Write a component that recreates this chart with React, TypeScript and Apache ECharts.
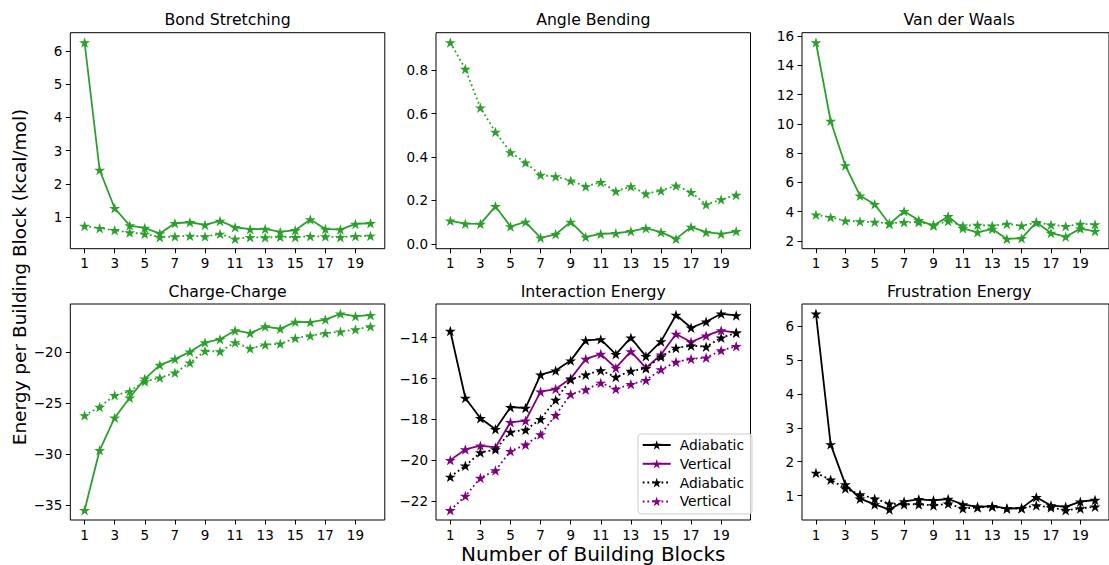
import React, { useEffect, useRef } from "react";
import * as echarts from "echarts";

const blocks = [1, 2, 3, 4, 5, 6, 7, 8, 9, 10, 11, 12, 13, 14, 15, 16, 17, 18, 19, 20];
const xTicks = [1, 3, 5, 7, 9, 11, 13, 15, 17, 19];

const bondSolid = [6.25, 2.42, 1.27, 0.75, 0.68, 0.51, 0.82, 0.85, 0.77, 0.89, 0.7, 0.64, 0.65, 0.56, 0.61, 0.93, 0.65, 0.63, 0.8, 0.82];
const bondDotted = [0.74, 0.67, 0.61, 0.54, 0.5, 0.4, 0.42, 0.44, 0.42, 0.5, 0.35, 0.4, 0.39, 0.41, 0.4, 0.43, 0.42, 0.4, 0.43, 0.44];
const bondTicks = [1, 2, 3, 4, 5, 6];

const angleSolid = [0.106, 0.093, 0.092, 0.173, 0.08, 0.101, 0.028, 0.044, 0.101, 0.032, 0.046, 0.049, 0.058, 0.072, 0.054, 0.023, 0.078, 0.054, 0.046, 0.058];
const angleDotted = [0.927, 0.805, 0.627, 0.515, 0.421, 0.374, 0.317, 0.31, 0.291, 0.264, 0.284, 0.242, 0.264, 0.231, 0.245, 0.268, 0.238, 0.181, 0.204, 0.225];
const angleTicks = [0, 0.2, 0.4, 0.6, 0.8];

const vdwSolid = [15.55, 10.19, 7.15, 5.09, 4.5, 3.16, 4.02, 3.41, 3.04, 3.68, 2.86, 2.59, 2.82, 2.14, 2.18, 3.27, 2.54, 2.29, 2.84, 2.66];
const vdwDotted = [3.79, 3.61, 3.38, 3.32, 3.29, 3.2, 3.27, 3.27, 3.11, 3.34, 3.04, 3.09, 3.04, 3.16, 3.04, 3.25, 3.11, 3.0, 3.16, 3.13];
const vdwTicks = [2, 4, 6, 8, 10, 12, 14, 16];

const chargeSolid = [-35.47, -29.61, -26.42, -24.46, -22.61, -21.27, -20.68, -19.97, -19.06, -18.73, -17.88, -18.14, -17.49, -17.72, -17.04, -17.07, -16.81, -16.25, -16.48, -16.38];
const chargeDotted = [-26.19, -25.37, -24.23, -23.84, -22.87, -22.51, -22.02, -21.04, -19.9, -19.93, -19.06, -19.64, -19.28, -19.19, -18.63, -18.4, -18.14, -18.01, -17.79, -17.49];
const chargeTicks = [-35, -30, -25, -20];

const interAdiabaticSolid = [-13.67, -16.95, -17.94, -18.48, -17.4, -17.44, -15.81, -15.61, -15.12, -14.13, -14.08, -14.81, -14.0, -14.91, -14.18, -12.89, -13.51, -13.22, -12.83, -12.91];
const interVerticalSolid = [-19.99, -19.47, -19.28, -19.37, -18.14, -18.06, -16.64, -16.51, -16.0, -15.04, -14.8, -15.48, -14.67, -15.48, -14.83, -13.82, -14.21, -13.9, -13.64, -13.76];
const interAdiabaticDotted = [-20.81, -20.27, -19.62, -19.47, -18.61, -18.51, -17.99, -17.05, -16.04, -15.81, -15.6, -15.92, -15.63, -15.5, -14.93, -14.5, -14.39, -14.44, -14.0, -13.76];
const interVerticalDotted = [-22.44, -21.75, -20.86, -20.5, -19.55, -19.24, -18.74, -17.79, -16.77, -16.54, -16.21, -16.51, -16.28, -16.08, -15.56, -15.19, -15.04, -14.98, -14.62, -14.42];
const interTicks = [-22, -20, -18, -16, -14];

const frusSolid = [6.36, 2.51, 1.33, 0.91, 0.74, 0.59, 0.83, 0.89, 0.86, 0.9, 0.74, 0.67, 0.69, 0.62, 0.63, 0.95, 0.71, 0.67, 0.82, 0.87];
const frusDotted = [1.67, 1.47, 1.21, 1.03, 0.91, 0.76, 0.74, 0.74, 0.71, 0.76, 0.62, 0.65, 0.67, 0.62, 0.63, 0.71, 0.65, 0.57, 0.62, 0.67];
const frusTicks = [1, 2, 3, 4, 5, 6];

const titles = ["Bond Stretching", "Angle Bending", "Van der Waals", "Charge-Charge", "Interaction Energy", "Frustration Energy"];
const legendNames = ["Adiabatic", "Vertical", "Adiabatic ", "Vertical "];

const GREEN = "#2ca02c";
const PURPLE = "#800080";
const BLACK = "#000000";
const STAR =
  "path://M0,-1L-0.2245,-0.309L-0.951,-0.309L-0.363,0.118L-0.588,0.809L0,0.382L0.588,0.809L0.363,0.118L0.951,-0.309L0.2245,-0.309Z";
const FONT = "DejaVu Sans";

const fmtTick = (decimals: number) => (v: number) => {
  const s = Math.abs(v).toFixed(decimals);
  return v < 0 ? "\u2212" + s : s;
};

export default function App() {
  const ref = useRef<HTMLDivElement>(null);

  useEffect(() => {
    if (!ref.current) return;
    const chart = echarts.init(ref.current, null, { renderer: "svg" });

    const lefts = [70.3, 436, 802];
    const tops = [32.7, 304];
    const W = 314.5;
    const H = 216;

    const panels = [
      { ticks: bondTicks, dec: 0, lines: [{ d: bondSolid, c: GREEN, dot: false }, { d: bondDotted, c: GREEN, dot: true }] },
      { ticks: angleTicks, dec: 1, lines: [{ d: angleSolid, c: GREEN, dot: false }, { d: angleDotted, c: GREEN, dot: true }] },
      { ticks: vdwTicks, dec: 0, lines: [{ d: vdwSolid, c: GREEN, dot: false }, { d: vdwDotted, c: GREEN, dot: true }] },
      { ticks: chargeTicks, dec: 0, lines: [{ d: chargeSolid, c: GREEN, dot: false }, { d: chargeDotted, c: GREEN, dot: true }] },
      {
        ticks: interTicks,
        dec: 0,
        lines: [
          { d: interAdiabaticSolid, c: BLACK, dot: false, name: legendNames[0] },
          { d: interVerticalSolid, c: PURPLE, dot: false, name: legendNames[1] },
          { d: interAdiabaticDotted, c: BLACK, dot: true, name: legendNames[2] },
          { d: interVerticalDotted, c: PURPLE, dot: true, name: legendNames[3] },
        ],
      },
      { ticks: frusTicks, dec: 0, lines: [{ d: frusSolid, c: BLACK, dot: false }, { d: frusDotted, c: BLACK, dot: true }] },
    ];

    const margin = (e: { min: number; max: number }, side: number) => {
      const r = e.max - e.min;
      return side < 0 ? e.min - 0.05 * r : e.max + 0.05 * r;
    };

    const grid: any[] = [];
    const xAxis: any[] = [];
    const yAxis: any[] = [];
    const series: any[] = [];
    const title: any[] = [];

    panels.forEach((p, i) => {
      const col = i % 3;
      const row = Math.floor(i / 3);
      grid.push({
        left: lefts[col],
        top: tops[row],
        width: W,
        height: H,
        show: true,
        borderColor: "#000",
        borderWidth: 1,
        backgroundColor: "transparent",
        containLabel: false,
      });
      title.push({
        text: titles[i],
        left: lefts[col] + W / 2,
        top: tops[row] - 21,
        padding: 0,
        textAlign: "center",
        textStyle: { fontFamily: FONT, fontSize: 15.7, fontWeight: "normal", color: "#000" },
      });
      const axisCommon = {
        axisLine: { show: false, onZero: false },
        axisTick: { show: true, length: 4.5, lineStyle: { color: "#000", width: 1 } },
        splitLine: { show: false },
      };
      xAxis.push({
        type: "value",
        gridIndex: i,
        min: (e: any) => margin(e, -1),
        max: (e: any) => margin(e, 1),
        ...axisCommon,
        axisTick: { ...axisCommon.axisTick, customValues: xTicks },
        axisLabel: {
          customValues: xTicks,
          margin: 7.5,
          fontFamily: FONT,
          fontSize: 13.5,
          color: "#000",
          formatter: fmtTick(0),
        },
        ...(i === 4
          ? {
              name: "Number of Building Blocks",
              nameLocation: "middle",
              nameGap: 24,
              nameTextStyle: { fontFamily: FONT, fontSize: 20, color: "#000", verticalAlign: "top" },
            }
          : {}),
      });
      yAxis.push({
        type: "value",
        gridIndex: i,
        min: (e: any) => margin(e, -1),
        max: (e: any) => margin(e, 1),
        ...axisCommon,
        axisTick: { ...axisCommon.axisTick, customValues: p.ticks },
        axisLabel: {
          customValues: p.ticks,
          margin: 8,
          fontFamily: FONT,
          fontSize: 13.5,
          color: "#000",
          formatter: fmtTick(p.dec),
        },
      });
      p.lines.forEach((l: any, j: number) => {
        series.push({
          type: "line",
          name: l.name || `panel${i}-${j}`,
          xAxisIndex: i,
          yAxisIndex: i,
          data: blocks.map((b, k) => [b, l.d[k]]),
          symbol: STAR,
          symbolSize: 11,
          symbolKeepAspect: true,
          showSymbol: true,
          color: l.c,
          itemStyle: { color: l.c, borderWidth: 0 },
          lineStyle: { color: l.c, width: 1.8, type: l.dot ? [1.8, 2.9] : "solid", cap: "butt" },
          emphasis: { disabled: true },
          z: 2 + j,
        });
      });
    });

    chart.setOption({
      animation: false,
      backgroundColor: "#fff",
      title,
      grid,
      xAxis,
      yAxis,
      series,
      legend: {
        data: legendNames,
        orient: "vertical",
        left: 638,
        top: 434,
        itemWidth: 28,
        itemHeight: 12,
        itemGap: 3.8,
        padding: [3.5, 8, 5, 3.7],
        selectedMode: false,
        borderColor: "#cccccc",
        borderWidth: 1,
        borderRadius: 3,
        backgroundColor: "rgba(255,255,255,0.8)",
        formatter: (n: string) => n.trim(),
        textStyle: { fontFamily: FONT, fontSize: 13.8, color: "#000", lineHeight: 15, padding: [0, 0, 0, 4] },
      },
      graphic: [
        {
          type: "text",
          x: 19,
          y: 277,
          rotation: Math.PI / 2,
          style: {
            text: "Energy per Building Block (kcal/mol)",
            fontFamily: FONT,
            fontSize: 18.5,
            fill: "#000",
            textAlign: "center",
            textVerticalAlign: "middle",
          },
        },
      ],
    });

    return () => chart.dispose();
  }, []);

  return <div ref={ref} style={{ position: "absolute", left: 0, top: 0, width: 1109, height: 565 }} />;
}
